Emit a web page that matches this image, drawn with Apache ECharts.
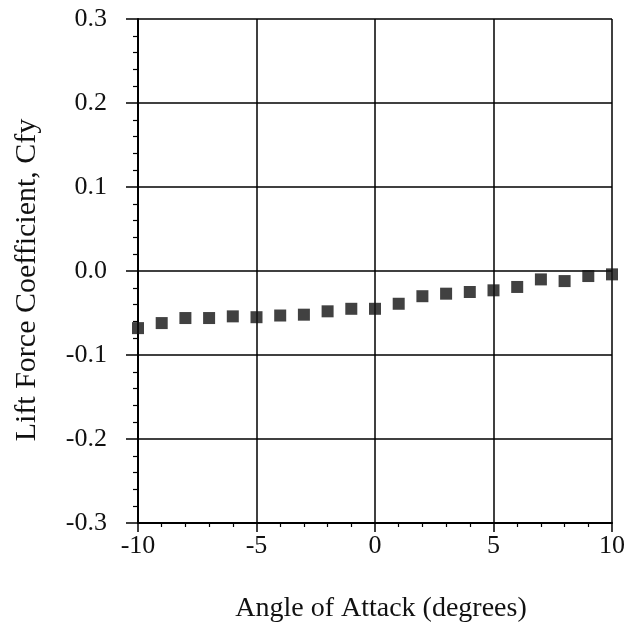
<!DOCTYPE html>
<html>
<head>
<meta charset="utf-8">
<script src="https://cdn.jsdelivr.net/npm/echarts@6/dist/echarts.min.js"></script>
<style>
  html, body { margin: 0; padding: 0; background: #fff; }
  #chart { width: 628px; height: 634px; }
</style>
</head>
<body>
<div id="chart"></div>
<script>
// angle of attack (deg) and measured lift coefficient
var angles = [-10, -9, -8, -7, -6, -5, -4, -3, -2, -1, 0, 1, 2, 3, 4, 5, 6, 7, 8, 9, 10];
var cfy = [-0.068, -0.062, -0.056, -0.056, -0.054, -0.055, -0.053, -0.052, -0.048, -0.045,
           -0.045, -0.039, -0.030, -0.027, -0.025, -0.023, -0.019, -0.010, -0.012, -0.006, -0.004];

var fontFam = '"Liberation Serif", "DejaVu Serif", serif';

var myChart = echarts.init(document.getElementById('chart'));

myChart.setOption({
    animation: false,
    textStyle: { fontFamily: fontFam },
    grid: { left: 138, right: 15, top: 19, bottom: 111 },
    xAxis: {
        type: 'value',
        min: -10,
        max: 10,
        interval: 5,
        name: 'Angle of Attack (degrees)',
        nameLocation: 'middle',
        nameGap: 72,
        nameTextStyle: { fontSize: 28, color: '#111', fontFamily: fontFam, padding: [0, 0, 0, 12] },
        axisLine: { onZero: false, lineStyle: { color: '#000', width: 2 } },
        axisTick: { length: 9, lineStyle: { color: '#000', width: 1.5 } },
        minorTick: { show: true, splitNumber: 5, length: 4, lineStyle: { color: '#000', width: 1.2 } },
        axisLabel: { fontSize: 26, color: '#111', margin: 10, fontFamily: fontFam },
        splitLine: { show: true, lineStyle: { color: '#000', width: 1.5 } }
    },
    yAxis: {
        type: 'value',
        min: -0.3,
        max: 0.3,
        interval: 0.1,
        name: 'Lift Force Coefficient, Cfy',
        nameLocation: 'middle',
        nameGap: 96,
        nameTextStyle: { fontSize: 30, color: '#111', fontFamily: fontFam, padding: [0, 18, 0, 0] },
        axisLine: { onZero: false, lineStyle: { color: '#000', width: 2 } },
        axisTick: { length: 12, lineStyle: { color: '#000', width: 1.5 } },
        minorTick: { show: true, splitNumber: 5, length: 5, lineStyle: { color: '#000', width: 1.2 } },
        axisLabel: {
            fontSize: 26, color: '#111', margin: 31, fontFamily: fontFam,
            formatter: function (v) {
                var s = (Math.round(v * 10) / 10).toFixed(1);
                return s === '-0.0' ? '0.0' : s;
            }
        },
        splitLine: { show: true, lineStyle: { color: '#000', width: 1.5 } }
    },
    series: [{
        type: 'scatter',
        symbol: 'rect',
        symbolSize: 12,
        itemStyle: { color: '#111' },
        data: angles.map(function (a, i) { return [a, cfy[i]]; })
    }]
});
</script>
</body>
</html>
